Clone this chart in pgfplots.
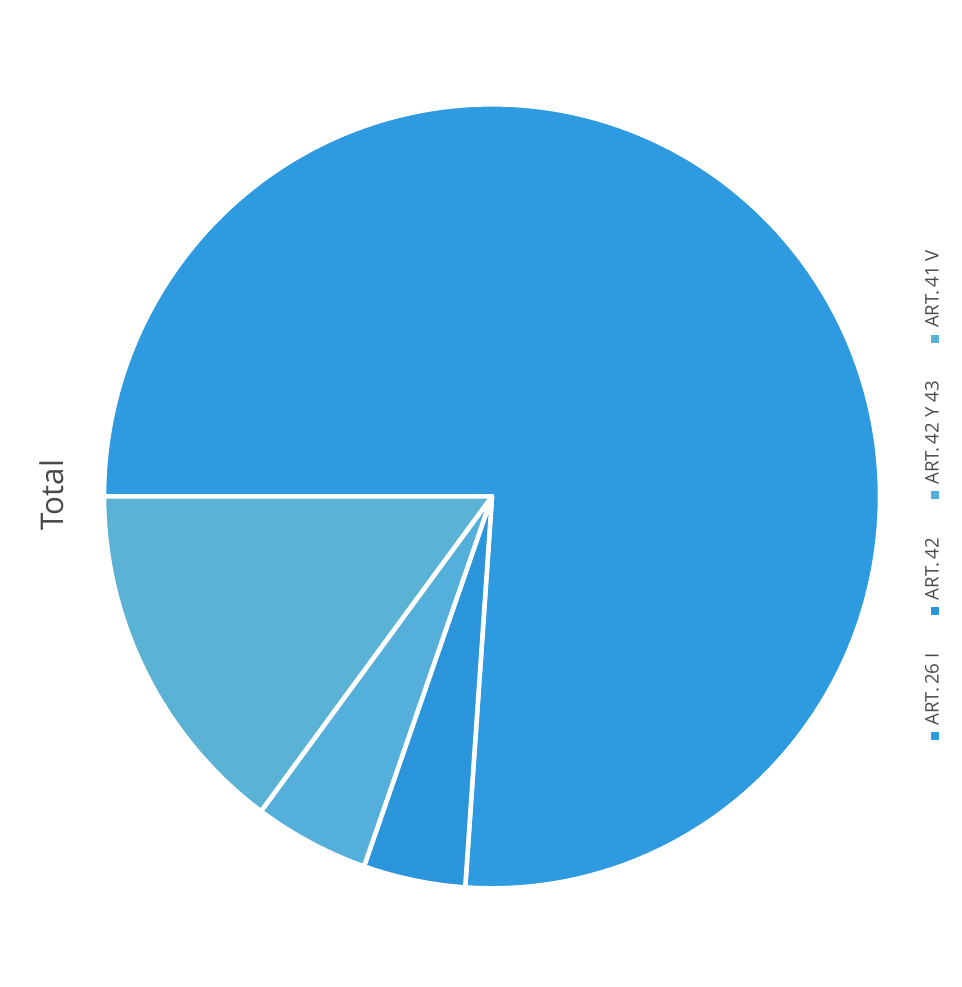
\documentclass[border=0pt]{standalone}
\usepackage{fontspec}
\setmainfont{Open Sans}
\usepackage{pgfplots}
\usepackage{pgfplotstable}
\pgfplotsset{compat=1.18}
\definecolor{cA}{HTML}{2E9BE0}
\definecolor{cB}{HTML}{2B95DB}
\definecolor{cC}{HTML}{55AFDB}
\definecolor{cD}{HTML}{5AB2D4}
\definecolor{txt}{HTML}{4A4A4A}
% slice values (percent): ART. 26 I, ART. 42, ART. 42 Y 43, ART. 41 V
\pgfplotstableread{
idx value
0 76.1
1 4.25
2 4.8
3 14.85
}\piedata
\begin{document}
\begin{tikzpicture}
\pgfplotstablegetelem{0}{value}\of\piedata \let\va\pgfplotsretval
\pgfplotstablegetelem{1}{value}\of\piedata \let\vb\pgfplotsretval
\pgfplotstablegetelem{2}{value}\of\piedata \let\vc\pgfplotsretval
\pgfplotstablegetelem{3}{value}\of\piedata \let\vd\pgfplotsretval
\pgfmathsetmacro\aA{180-3.6*\va}
\pgfmathsetmacro\aB{\aA-3.6*\vb}
\pgfmathsetmacro\aC{\aB-3.6*\vc}
\pgfmathsetmacro\aD{\aC-3.6*\vd}
\path[use as bounding box] (0,0) rectangle (721.5pt,740.25pt);
\begin{axis}[
  at={(369pt,368pt)}, anchor=origin,
  scale only axis, width=582pt, height=588pt,
  xmin=-1, xmax=1, ymin=-1, ymax=1,
  hide axis, clip=false,
]
\addplot[fill=cA, draw=white, line width=3.4pt, line join=round, domain=\aA:180, samples=240, variable=\t] ({cos(\t)},{sin(\t)}) -- (axis cs:0,0) -- cycle;
\addplot[fill=cB, draw=white, line width=3.4pt, line join=round, domain=\aB:\aA, samples=30, variable=\t] ({cos(\t)},{sin(\t)}) -- (axis cs:0,0) -- cycle;
\addplot[fill=cC, draw=white, line width=3.4pt, line join=round, domain=\aC:\aB, samples=30, variable=\t] ({cos(\t)},{sin(\t)}) -- (axis cs:0,0) -- cycle;
\addplot[fill=cD, draw=white, line width=3.4pt, line join=round, domain=\aD:\aC, samples=60, variable=\t] ({cos(\t)},{sin(\t)}) -- (axis cs:0,0) -- cycle;
\end{axis}
\node[rotate=90, font=\fontsize{23.5}{27}\selectfont, text=txt] at (39pt,369pt) {Total};
\node[rotate=90, font=\fontsize{14}{17}\selectfont, text=txt] at (699pt,369pt) {%
\textcolor{cA}{\rule{6pt}{6pt}}\hspace{5pt}ART.\,26 I\hspace{29pt}%
\textcolor{cB}{\rule{6pt}{6pt}}\hspace{5pt}ART.\,42\hspace{29pt}%
\textcolor{cC}{\rule{6pt}{6pt}}\hspace{5pt}ART.\,42 Y 43\hspace{29pt}%
\textcolor{cD}{\rule{6pt}{6pt}}\hspace{5pt}ART.\,41 V};
\end{tikzpicture}
\end{document}
